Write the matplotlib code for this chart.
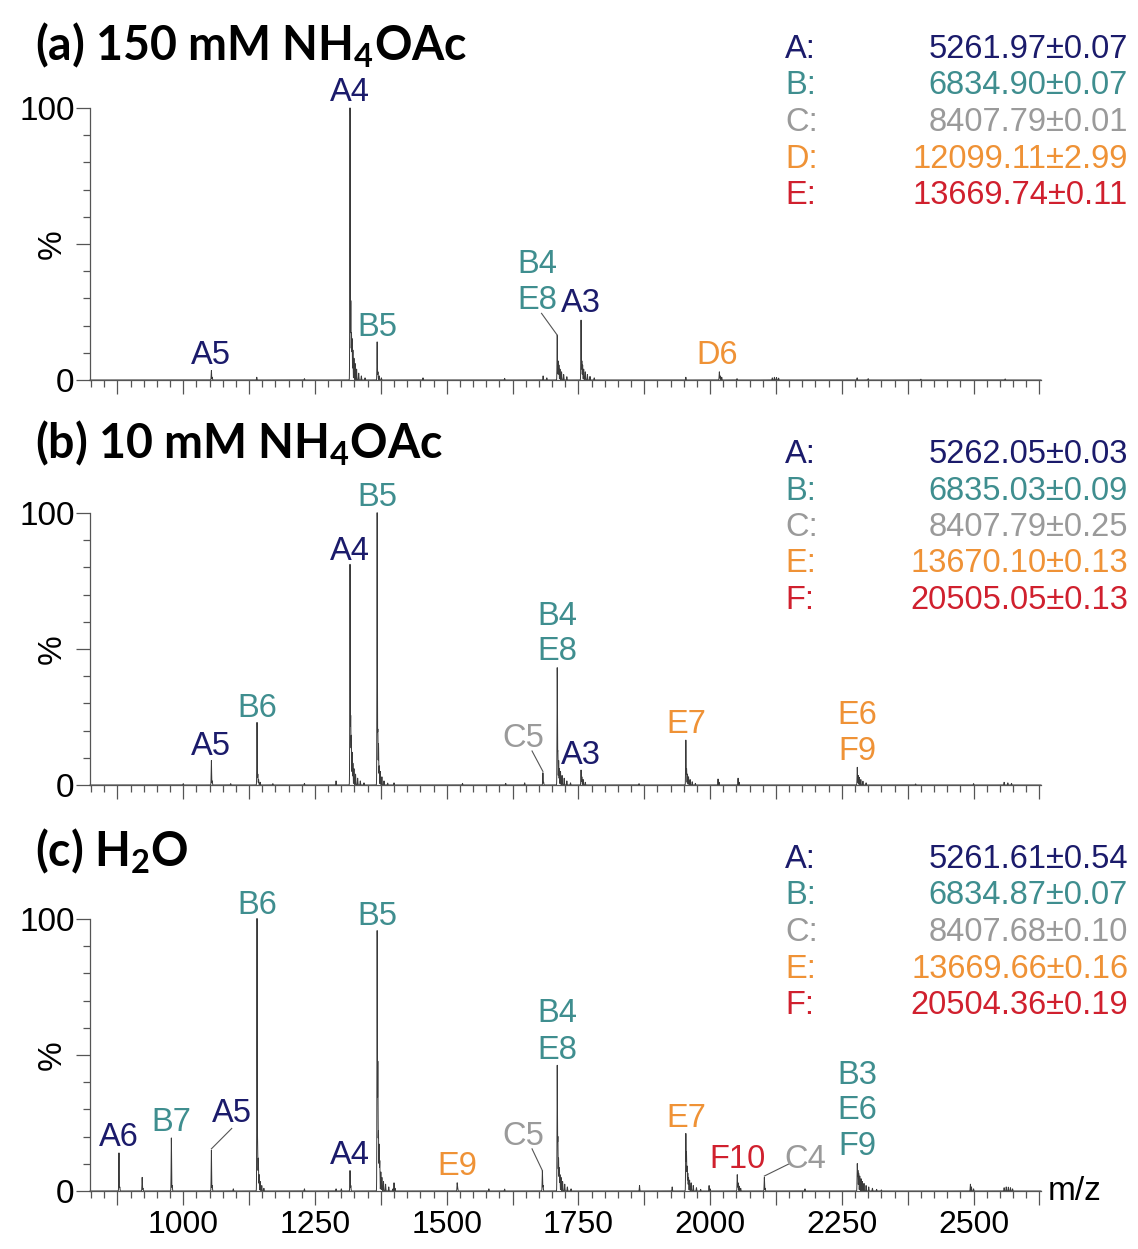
import numpy as np
import matplotlib.pyplot as plt
from matplotlib import font_manager
from matplotlib.ticker import MultipleLocator, FixedLocator, FuncFormatter

# ---- data (m/z, relative intensity %) ----
# panel (a) 150 mM NH4OAc
a_mz = [1053.4, 1055.0, 1139.5, 1230.0,
        1316.5, 1318.0, 1319.3, 1320.5, 1322.0, 1324.0, 1326.5, 1329.0, 1333.0, 1338.0, 1345.0,
        1368.0, 1369.5, 1372.0, 1376.0,
        1455.0, 1610.0, 1683.0, 1690.0,
        1709.8, 1711.5, 1713.0, 1715.0, 1718.0, 1722.0, 1728.0,
        1755.0, 1756.5, 1758.0, 1760.0, 1763.0, 1767.0, 1772.0, 1780.0,
        1953.9, 2017.5, 2019.0, 2022.0, 2051.0,
        2118.0, 2122.0, 2126.0, 2130.0, 2279.0, 2300.0, 2400.0, 2560.0]
a_int = [3.5, 1.0, 1.0, 0.5,
         100, 29, 17, 15, 11, 8, 6, 4, 2.5, 1.5, 0.8,
         14, 3, 1.5, 0.8,
         0.8, 0.6, 1.5, 0.8,
         16.5, 7, 5.5, 4, 3, 2, 1.2,
         22, 7, 5.5, 4, 3, 2, 1.3, 0.8,
         1.0, 3.0, 1.5, 1.0, 0.5,
         0.8, 1.0, 0.9, 0.7, 0.8, 0.5, 0.3, 0.4]

# panel (b) 10 mM NH4OAc
b_mz = [1000.0, 1053.4, 1055.0, 1090.0,
        1140.0, 1141.5, 1143.0, 1146.0, 1170.0, 1230.0, 1290.0,
        1316.5, 1317.8, 1319.0, 1320.5, 1322.0, 1324.0, 1327.0, 1331.0, 1336.0, 1343.0,
        1368.0, 1369.3, 1370.6, 1372.0, 1374.0, 1377.0, 1381.0, 1388.0,
        1400.0, 1530.0, 1612.0, 1648.0, 1682.6, 1684.0,
        1709.8, 1711.0, 1712.5, 1714.0, 1716.0, 1719.0, 1723.0, 1728.0, 1735.0,
        1755.0, 1756.5, 1759.0, 1763.0, 1865.0,
        1953.9, 1955.3, 1957.0, 1959.0, 1962.0, 1966.0, 1972.0,
        2015.0, 2017.0, 2053.0, 2055.0,
        2279.3, 2281.0, 2283.0, 2286.0, 2290.0, 2296.0,
        2390.0, 2500.0, 2558.0, 2565.0, 2572.0]
b_int = [0.5, 9, 1.5, 0.5,
         23, 4, 2, 1, 0.5, 0.6, 1.5,
         81, 25, 18, 12, 8, 6, 4, 2.5, 1.5, 0.8,
         100, 20, 15, 7, 5, 3, 1.5, 0.7,
         0.8, 0.6, 0.6, 0.8, 4.5, 1.0,
         43, 12, 9, 6, 5, 3.5, 2.5, 1.5, 0.8,
         5.5, 3, 2, 1, 0.5,
         16.5, 6, 4, 3, 2, 1.2, 0.6,
         2.2, 1.0, 2.5, 1.0,
         6.5, 3.5, 2.8, 2, 1.4, 0.8,
         0.4, 0.5, 1.0, 0.8, 0.6]

# panel (c) H2O
c_mz = [878.0, 879.5, 922.0, 923.5, 977.4, 979.0, 1053.4, 1055.0, 1095.0,
        1140.0, 1141.2, 1142.5, 1144.0, 1146.0, 1149.0, 1153.0,
        1230.0, 1290.0, 1300.0, 1316.5, 1318.0,
        1368.0, 1369.3, 1370.5, 1371.8, 1373.0, 1375.0, 1377.0, 1380.0, 1384.0, 1390.0, 1398.0,
        1400.0, 1402.0, 1519.9, 1521.0, 1580.0, 1610.0, 1681.6, 1683.0,
        1709.8, 1711.0, 1712.3, 1713.6, 1715.0, 1717.0, 1720.0, 1724.0, 1729.0, 1736.0,
        1866.0, 1928.0,
        1953.9, 1955.1, 1956.3, 1957.6, 1959.0, 1961.0, 1964.0, 1968.0, 1974.0, 1982.0,
        1998.0, 2000.0, 2051.5, 2053.0, 2055.0, 2058.0, 2102.9, 2104.5, 2180.0,
        2279.3, 2280.5, 2282.0, 2284.0, 2286.5, 2289.0, 2292.0, 2296.0, 2301.0, 2308.0, 2316.0, 2325.0,
        2494.0, 2496.0, 2500.0, 2558.0, 2562.0, 2566.0, 2570.0, 2574.0]
c_int = [14, 1.5, 5, 1, 19.5, 2, 15, 2, 0.8,
         100, 17, 12, 6, 3.5, 2, 1,
         0.8, 0.8, 0.8, 7.5, 2,
         95.5, 47, 21.6, 17, 11, 7, 5, 3.5, 2.5, 1.5, 0.8,
         3, 1, 3, 1, 0.8, 0.7, 7.5, 2,
         46, 19.5, 12, 8.5, 6, 5, 3.5, 2.5, 1.5, 0.8,
         2, 1.5,
         21, 14, 9, 6.5, 5, 4, 3, 2, 1.2, 0.6,
         2, 0.8, 6, 3, 1.8, 1, 5, 1, 0.8,
         10, 7.5, 6.5, 5.5, 4.5, 3.5, 2.8, 2, 1.5, 1, 0.6, 0.4,
         2.5, 1.5, 0.8, 1.2, 1.5, 1.4, 1.2, 0.8]

NAVY, TEAL, GRAY, ORANGE, RED = '#1b1b6b', '#3f8e8f', '#9a9a9a', '#ef9236', '#d0202e'

# peak annotations: text, m/z, baseline y (%), colour
a_labels = [('A4', 1316.5, 102.5, NAVY), ('A5', 1053.4, 6, NAVY), ('B5', 1368, 16, TEAL),
            ('B4', 1672, 39.3, TEAL), ('E8', 1672, 26, TEAL), ('A3', 1755, 25, NAVY),
            ('D6', 2014, 6, ORANGE)]
b_labels = [('A5', 1053.4, 11, NAVY), ('B6', 1140, 25, TEAL), ('A4', 1316.5, 82.7, NAVY),
            ('B5', 1368, 102.6, TEAL), ('C5', 1645, 14, GRAY), ('B4', 1709.8, 59, TEAL),
            ('E8', 1709.8, 46, TEAL), ('A3', 1755, 7.7, NAVY), ('E7', 1953.9, 19, ORANGE),
            ('E6', 2279.3, 22.4, ORANGE), ('F9', 2279.3, 9.2, ORANGE)]
c_labels = [('A6', 878, 16.5, NAVY), ('B7', 977.4, 22, TEAL), ('A5', 1093, 25.3, NAVY),
            ('B6', 1140, 102, TEAL), ('A4', 1316.5, 10, NAVY), ('B5', 1368, 97.8, TEAL),
            ('E9', 1519.9, 6, ORANGE), ('C5', 1645, 17, GRAY), ('B4', 1709.8, 62, TEAL),
            ('E8', 1709.8, 48.7, TEAL), ('E7', 1953.9, 23.4, ORANGE), ('F10', 2051.5, 8.4, RED),
            ('C4', 2180, 8.4, GRAY), ('B3', 2279.3, 39.5, TEAL), ('E6', 2279.3, 26.4, TEAL),
            ('F9', 2279.3, 13.2, TEAL)]

# leader lines: (x0, y0) -> (x1, y1)
a_leaders = [(1680, 24.5, 1709.8, 16.5)]
b_leaders = [(1662, 12.5, 1682.6, 5)]
c_leaders = [(1092, 23, 1053.4, 15.5), (1662, 15.5, 1681.6, 7.5), (2150, 10, 2102.9, 5.5)]

# mass tables
a_table = [('A:', '5261.97±0.07', NAVY), ('B:', '6834.90±0.07', TEAL), ('C:', '8407.79±0.01', GRAY),
           ('D:', '12099.11±2.99', ORANGE), ('E:', '13669.74±0.11', RED)]
b_table = [('A:', '5262.05±0.03', NAVY), ('B:', '6835.03±0.09', TEAL), ('C:', '8407.79±0.25', GRAY),
           ('E:', '13670.10±0.13', ORANGE), ('F:', '20505.05±0.13', RED)]
c_table = [('A:', '5261.61±0.54', NAVY), ('B:', '6834.87±0.07', TEAL), ('C:', '8407.68±0.10', GRAY),
           ('E:', '13669.66±0.16', ORANGE), ('F:', '20504.36±0.19', RED)]

titles = [r'(a) 150 mM NH$_\mathbf{4}$OAc', r'(b) 10 mM NH$_\mathbf{4}$OAc', r'(c) H$_\mathbf{2}$O']

# ---- styling ----
names = {f.name for f in font_manager.fontManager.ttflist}
tick_font = 'Liberation Sans Narrow' if 'Liberation Sans Narrow' in names else 'Liberation Sans'
tick_size = 26 if tick_font == 'Liberation Sans Narrow' else 23
plt.rcParams['font.family'] = ['Liberation Sans', 'DejaVu Sans']
plt.rcParams['mathtext.fontset'] = 'custom'
plt.rcParams['mathtext.bf'] = 'Lato:bold'
plt.rcParams['mathtext.rm'] = 'Lato:bold'

W, H = 1138, 1249
fig = plt.figure(figsize=(W / 100, H / 100), dpi=100)

grid = np.arange(823, 2628, 0.1)


def trace(mz, inten):
    mz = np.asarray(mz)[:, None]
    inten = np.asarray(inten)[:, None]
    return (inten * np.exp(-0.5 * ((grid[None, :] - mz) / 0.4) ** 2)).sum(axis=0)


panels = [(a_mz, a_int, a_labels, a_leaders, a_table, 380, 60, 58),
          (b_mz, b_int, b_labels, b_leaders, b_table, 785, 458, 463),
          (c_mz, c_int, c_labels, c_leaders, c_table, 1191, 866, 868)]

for i, (mz, inten, labels, leaders, table, y0px, title_px, table_px) in enumerate(panels):
    ax = fig.add_axes([90 / W, 1 - y0px / H, (1041 - 90) / W, 272 / H])
    ax.plot(grid, trace(mz, inten), color='#3a3a3a', lw=0.7, clip_on=False)
    ax.set_xlim(823, 2628)
    ax.set_ylim(0, 100)
    ax.patch.set_alpha(0)
    for s in ['top', 'right']:
        ax.spines[s].set_visible(False)
    for s in ['left', 'bottom']:
        ax.spines[s].set_color('#555555')
        ax.spines[s].set_linewidth(0.9)

    ax.xaxis.set_major_locator(MultipleLocator(125))
    ax.xaxis.set_minor_locator(MultipleLocator(25))
    ax.yaxis.set_major_locator(FixedLocator([0, 50, 100]))
    ax.yaxis.set_minor_locator(MultipleLocator(10))
    ax.tick_params(which='major', direction='out', length=10, width=0.9, color='#555555')
    ax.tick_params(which='minor', direction='out', length=5, width=0.9, color='#555555')
    ax.tick_params(axis='y', pad=1)
    ax.set_yticklabels(['0', '', '100'], fontfamily=tick_font, fontsize=tick_size + 1)
    if i == 2:
        ax.xaxis.set_major_formatter(FuncFormatter(lambda v, p: f'{v:.0f}' if v % 250 == 0 else ''))
        for t in ax.get_xticklabels():
            t.set_fontfamily(tick_font)
            t.set_fontsize(tick_size)
        ax.tick_params(axis='x', pad=4)
        ax.text(1.007, 0, 'm/z', transform=ax.transAxes, fontsize=24, va='center', ha='left')
    else:
        ax.set_xticklabels([])

    for txt, x, y, col in labels:
        ax.text(x, y, txt, color=col, fontsize=23.5, ha='center', va='baseline')
    for x0, y0, x1, y1 in leaders:
        ax.plot([x0, x1], [y0, y1], color='#555555', lw=0.8, clip_on=False)

    fig.text(52 / W, 1 - (y0px - 136) / H, '%', rotation=90, fontsize=24,
             fontfamily=tick_font, ha='center', va='center')
    fig.text(35 / W, 1 - title_px / H, titles[i], fontfamily='Lato', fontweight='bold',
             fontsize=33.5, va='baseline', ha='left')
    for k, (key, val, col) in enumerate(table):
        yy = 1 - (table_px + 36.5 * k) / H
        fig.text(785 / W, yy, key, color=col, fontsize=23.5, va='baseline', ha='left')
        fig.text(1128 / W, yy, val, color=col, fontsize=23.5, va='baseline', ha='right')

fig.savefig('out.png', dpi=100, facecolor='white')
